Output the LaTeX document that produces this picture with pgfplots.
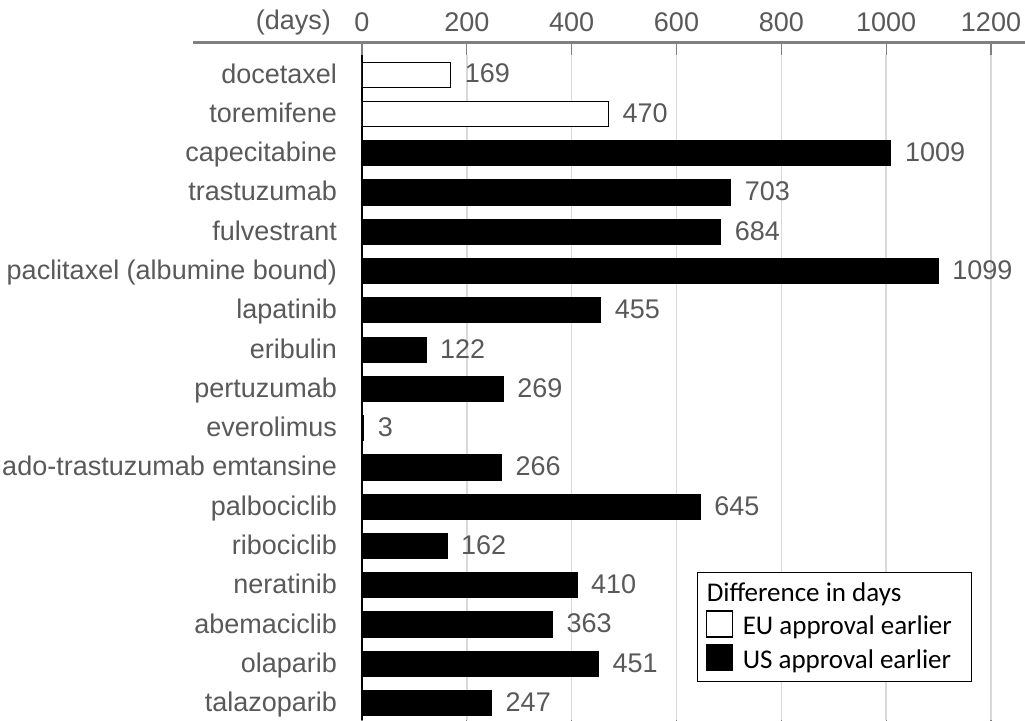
\documentclass[border=0pt]{standalone}
\usepackage{pgfplots}
\pgfplotsset{compat=1.18}
\usepackage{fontspec}
\setmainfont{Liberation Sans}
\newfontfamily\calibri{Carlito}
\definecolor{txtgray}{RGB}{89,89,89}
\definecolor{gridgray}{RGB}{217,217,217}
\definecolor{rulegray}{RGB}{128,128,128}
\pgfplotsset{
  sqlegend/.style={legend image code/.code={\draw[##1, line width=0.6pt] (0pt,-5pt) rectangle (13pt,8pt);}}
}
\begin{document}
\begin{tikzpicture}
\begin{axis}[
  scale only axis, width=314.5pt, height=332.5pt,
  xmin=0, xmax=1200, ymin=-0.43, ymax=16.5,
  xbar, bar width=12.5pt, bar shift=0pt,
  xtick={0,200,...,1200}, xticklabel pos=upper,
  ytick={0,...,16},
  yticklabels={talazoparib, olaparib, abemaciclib, neratinib, ribociclib, palbociclib, ado-trastuzumab emtansine, everolimus, pertuzumab, eribulin, lapatinib, paclitaxel (albumine bound), fulvestrant, trastuzumab, capecitabine, toremifene, docetaxel},
  axis line style={draw=none},
  xmajorgrids, grid style={gridgray, line width=0.75pt},
  tick align=outside, major tick length=5.5pt,
  xtick style={rulegray, line width=0.6pt},
  ytick style={draw=none},
  extra x ticks={0}, extra x tick labels={},
  extra x tick style={grid style={black, line width=0.75pt}, major tick length=0pt},
  ticklabel style={font=\fontsize{13.5}{15}\selectfont, text=txtgray},
  xticklabel style={yshift=2.5pt},
  yticklabel style={xshift=-3.5pt, text height=11pt, text depth=2.5pt},
  /pgf/number format/assume math mode=true,
  /pgf/number format/1000 sep={},
  nodes near coords,
  nodes near coords style={font=\fontsize{13.5}{15}\selectfont, text=txtgray, anchor=west, xshift=3.5pt, yshift=0.5pt},
  legend style={at={(0.5326,0.2226)}, anchor=north west, draw=black, line width=0.6pt,
    font=\calibri\fontsize{13.5}{16}\selectfont, row sep=1pt, column sep=3pt, inner xsep=4pt, inner ysep=3pt},
  legend cell align=left,
]
\addlegendimage{empty legend}
\addlegendentry{\hspace*{-18pt}Difference in days}
\addplot[fill=white, draw=black, line width=0.6pt, sqlegend] coordinates {
  (169,16) (470,15)
};
\addlegendentry{EU approval earlier\hspace*{4pt}}
\addplot[fill=black, draw=black, line width=0.6pt, sqlegend] coordinates {
  (1009,14) (703,13) (684,12) (1099,11) (455,10) (122,9) (269,8) (3,7)
  (266,6) (645,5) (162,4) (410,3) (363,2) (451,1) (247,0)
};
\addlegendentry{US approval earlier}
\end{axis}
\draw[rulegray, line width=1.5pt] ([xshift=-84.5pt,yshift=6.5pt]current axis.north west) -- ([xshift=17pt,yshift=6.5pt]current axis.north east);
\node[anchor=base east, font=\fontsize{13.5}{15}\selectfont, text=txtgray] at ([xshift=-12pt,yshift=13pt]current axis.north west) {(days)};
\pgfresetboundingbox
\path ([xshift=-181pt]current axis.south west) rectangle ([xshift=17pt,yshift=27.5pt]current axis.north east);
\end{tikzpicture}
\end{document}
